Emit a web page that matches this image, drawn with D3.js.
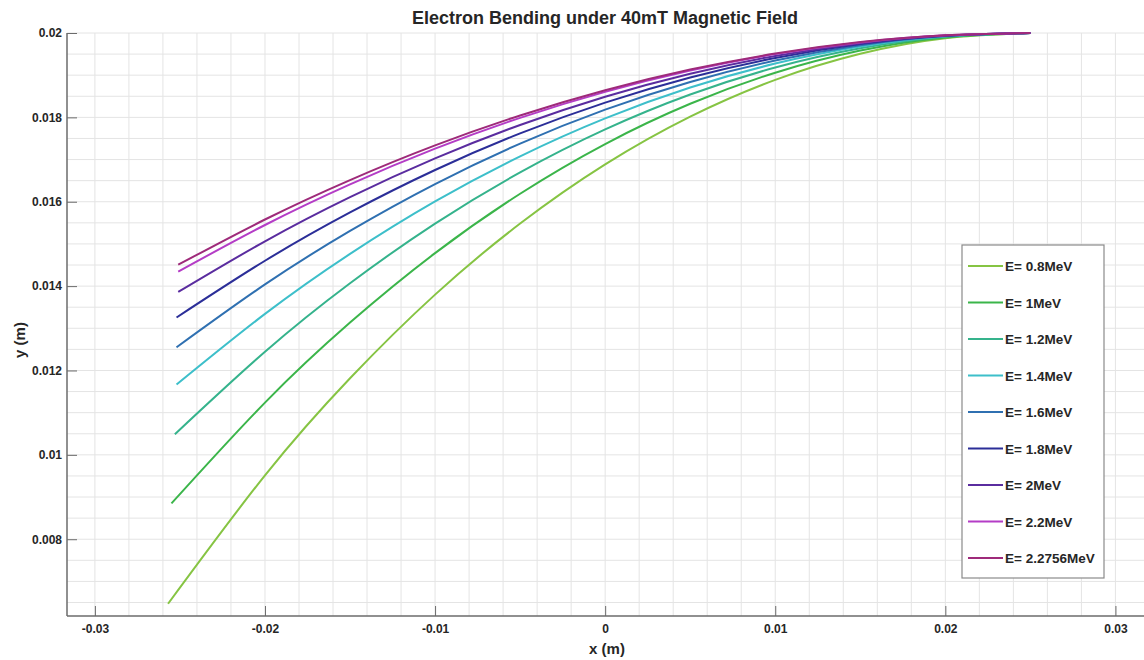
<!DOCTYPE html>
<html>
<head>
<meta charset="utf-8">
<script src="https://cdn.jsdelivr.net/npm/d3@7"></script>
<style>
  html, body { margin: 0; padding: 0; background: #fff; }
  #body { width: 1144px; height: 660px; }
  text { font-family: "Liberation Sans", Arial, Helvetica, sans-serif; font-weight: bold; fill: #262626; }
</style>
</head>
<body>
<div id="body"><svg></svg></div>
<script>
// x positions shared by every curve after its own start point
var xGrid = [-0.02, -0.015, -0.01, -0.005, 0, 0.005, 0.01, 0.015, 0.02, 0.025];

var energies = ["E= 0.8MeV", "E= 1MeV", "E= 1.2MeV", "E= 1.4MeV", "E= 1.6MeV",
  "E= 1.8MeV", "E= 2MeV", "E= 2.2MeV", "E= 2.2756MeV"];

var colors = ["#86c443", "#3bb54a", "#35b38c", "#3dbfca", "#2f70b1",
  "#2b2e98", "#5a2c9f", "#b43cc6", "#9e2a7a"];

// left end of each trajectory
var xStart = [-0.0257, -0.0255, -0.0253, -0.0252, -0.0252, -0.0252, -0.0251, -0.0251, -0.0251];

// y at xStart, then at each xGrid value
var y08 = [0.00647, 0.009514, 0.011815, 0.013798, 0.015483, 0.016886, 0.018018, 0.018890, 0.019508, 0.019877, 0.02];
var y10 = [0.008848, 0.011239, 0.013135, 0.014782, 0.016190, 0.017368, 0.018322, 0.019059, 0.019583, 0.019896, 0.02];
var y12 = [0.010488, 0.012444, 0.014067, 0.015482, 0.016695, 0.017714, 0.018541, 0.019182, 0.019637, 0.019909, 0.02];
var y14 = [0.011666, 0.013341, 0.014764, 0.016008, 0.017077, 0.017977, 0.018708, 0.019275, 0.019678, 0.019920, 0.02];
var y16 = [0.012549, 0.014040, 0.015309, 0.016420, 0.017378, 0.018183, 0.018840, 0.019348, 0.019711, 0.019928, 0.02];
var y18 = [0.013256, 0.014601, 0.015747, 0.016753, 0.017620, 0.018350, 0.018946, 0.019408, 0.019737, 0.019934, 0.02];
var y20 = [0.013861, 0.015062, 0.016109, 0.017027, 0.017820, 0.018489, 0.019034, 0.019457, 0.019759, 0.019940, 0.02];
var y22 = [0.014344, 0.015449, 0.016412, 0.017258, 0.017989, 0.018605, 0.019108, 0.019499, 0.019777, 0.019944, 0.02];
var y22756 = [0.014507, 0.015579, 0.016514, 0.017336, 0.018046, 0.018645, 0.019134, 0.019513, 0.019784, 0.019946, 0.02];

var xTicks = [-0.03, -0.02, -0.01, 0, 0.01, 0.02, 0.03];
var yTicks = [0.008, 0.01, 0.012, 0.014, 0.016, 0.018, 0.02];

var seriesY = [y08, y10, y12, y14, y16, y18, y20, y22, y22756];

var width = 1144, height = 660;
var margin = {top: 33, right: 0, bottom: 44, left: 67};

var svg = d3.select("svg")
  .attr("width", width)
  .attr("height", height);

var x = d3.scaleLinear()
  .domain([-0.03164, 0.03168])
  .range([margin.left, width - margin.right]);

var y = d3.scaleLinear()
  .domain([0.00618, 0.02])
  .range([height - margin.bottom, margin.top]);

var x0 = x.range()[0], x1 = x.range()[1];
var yb = y.range()[0], yt = y.range()[1];

// grid
var grid = svg.append("g").attr("class", "grid");
grid.selectAll("line.vx")
  .data(d3.range(-15, 16).map(function (i) { return i * 0.002; }))
  .enter().append("line")
  .attr("x1", function (d) { return x(d); })
  .attr("x2", function (d) { return x(d); })
  .attr("y1", yt)
  .attr("y2", yb)
  .attr("stroke", "#e4e4e4")
  .attr("stroke-width", 1);

grid.selectAll("line.hy")
  .data(d3.range(13, 41).map(function (i) { return i * 0.0005; }))
  .enter().append("line")
  .attr("x1", x0)
  .attr("x2", x1)
  .attr("y1", function (d) { return y(d); })
  .attr("y2", function (d) { return y(d); })
  .attr("stroke", "#e4e4e4")
  .attr("stroke-width", 1);

// axes
var xAxis = d3.axisBottom(x)
  .tickValues(xTicks)
  .tickSize(-10)
  .tickPadding(8)
  .tickFormat(function (d) { return d === 0 ? "0" : String(+d.toFixed(3)); });

var yAxis = d3.axisLeft(y)
  .tickValues(yTicks)
  .tickSize(-10)
  .tickPadding(5)
  .tickFormat(function (d) { return String(+d.toFixed(3)); });

var gx = svg.append("g")
  .attr("transform", "translate(0," + yb + ")")
  .call(xAxis);
var gy = svg.append("g")
  .attr("transform", "translate(" + x0 + ",0)")
  .call(yAxis);

[gx, gy].forEach(function (g) {
  g.select(".domain").attr("stroke", "#6b6b6b").attr("stroke-width", 1.5);
  g.selectAll(".tick line").attr("stroke", "#6b6b6b");
  g.selectAll(".tick text")
    .attr("font-size", 12)
    .attr("font-family", "Liberation Sans, Arial, sans-serif")
    .attr("font-weight", "bold")
    .attr("fill", "#333");
});
gx.select(".domain").attr("d", "M" + x0 + ",0H" + x1);
gy.select(".domain").attr("d", "M0," + yb + "V" + yt);

// curves
var line = d3.line()
  .x(function (d) { return x(d[0]); })
  .y(function (d) { return y(d[1]); })
  .curve(d3.curveNatural);

var curves = seriesY.map(function (ys, i) {
  var xs = [xStart[i]].concat(xGrid);
  return xs.map(function (xv, j) { return [xv, ys[j]]; });
});

svg.append("g").selectAll("path")
  .data(curves)
  .enter().append("path")
  .attr("d", line)
  .attr("fill", "none")
  .attr("stroke", function (d, i) { return colors[i]; })
  .attr("stroke-width", 2);

// title and labels
svg.append("text")
  .attr("x", 605)
  .attr("y", 24)
  .attr("text-anchor", "middle")
  .attr("font-size", 18)
  .text("Electron Bending under 40mT Magnetic Field");

svg.append("text")
  .attr("x", 607)
  .attr("y", 654)
  .attr("text-anchor", "middle")
  .attr("font-size", 15)
  .text("x (m)");

svg.append("text")
  .attr("transform", "translate(25," + 340 + ") rotate(-90)")
  .attr("text-anchor", "middle")
  .attr("font-size", 15)
  .text("y (m)");

// legend
var legend = svg.append("g").attr("transform", "translate(962,245)");
legend.append("rect")
  .attr("x", 0)
  .attr("y", 0)
  .attr("width", 142)
  .attr("height", 333)
  .attr("fill", "#fff")
  .attr("stroke", "#8a8a8a")
  .attr("stroke-width", 1.2);

var item = legend.selectAll("g.item")
  .data(energies)
  .enter().append("g")
  .attr("transform", function (d, i) { return "translate(0," + (21 + i * 36.5) + ")"; });

item.append("line")
  .attr("x1", 6)
  .attr("x2", 41)
  .attr("stroke", function (d, i) { return colors[i]; })
  .attr("stroke-width", 2);

item.append("text")
  .attr("x", 43)
  .attr("y", 5)
  .attr("font-size", 13.5)
  .attr("fill", "#222")
  .text(function (d) { return d; });
</script>
</body>
</html>
